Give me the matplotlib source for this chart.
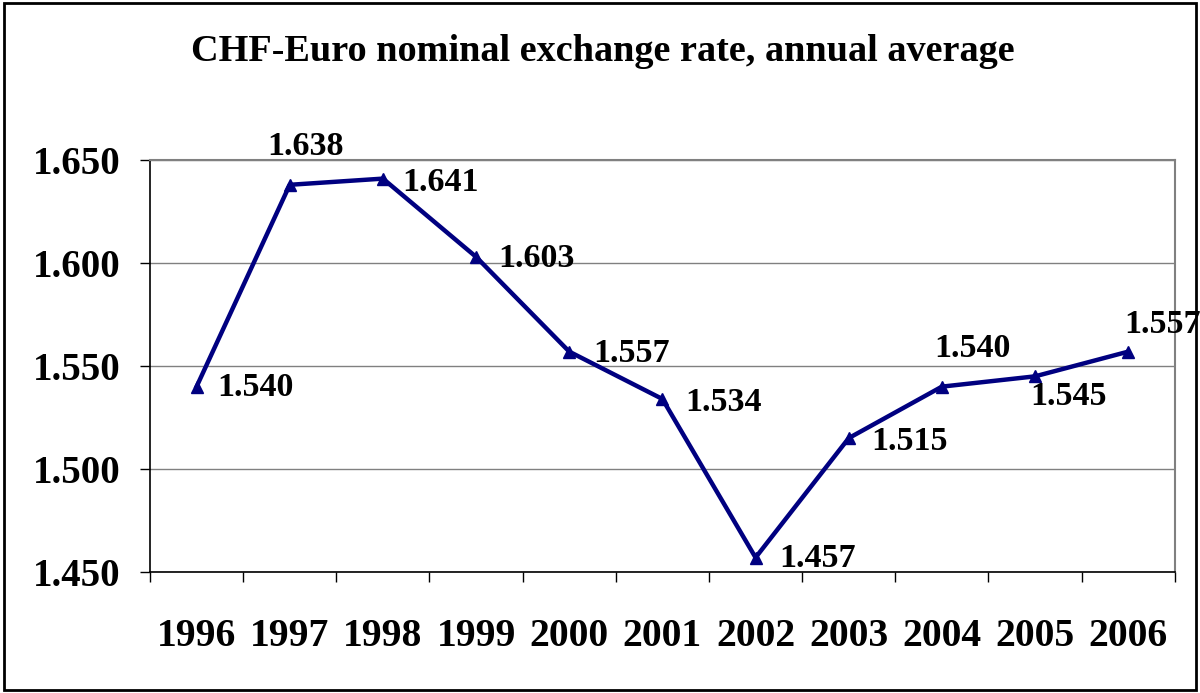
import matplotlib.pyplot as plt
from matplotlib.patches import Rectangle

years = ["1996", "1997", "1998", "1999", "2000", "2001", "2002", "2003", "2004", "2005", "2006"]
rates = [1.540, 1.638, 1.641, 1.603, 1.557, 1.534, 1.457, 1.515, 1.540, 1.545, 1.557]
y_ticks = [1.45, 1.50, 1.55, 1.60, 1.65]

# label offsets in pixels (dx, dy)
offsets = [(59, -1), (16, 38), (58, -4), (60, -2), (62, -2), (61, -4),
           (62, -1), (61, -3), (31, 38), (33, -20), (34, 27)]

plt.rcParams['font.family'] = ['Liberation Serif', 'DejaVu Serif']
plt.rcParams['font.weight'] = 'bold'

fig = plt.figure(figsize=(12, 6.93), dpi=100)
ax = fig.add_axes([0.125, 0.1746, 0.854, 0.5944])

x = list(range(len(years)))
ax.plot(x, rates, color='#000080', lw=3.2, marker='^', ms=8, zorder=3)

for xi, v, off in zip(x, rates, offsets):
    ax.annotate(f"{v:.3f}", (xi, v), xytext=off, textcoords='offset pixels',
                ha='center', va='center', fontsize=24.5, fontweight='bold')

ax.set_xlim(-0.5, len(years) - 0.5)
ax.set_ylim(1.45, 1.65)
ax.set_yticks(y_ticks)
ax.set_yticklabels([f"{t:.3f}" for t in y_ticks], fontsize=28, fontweight='bold')
ax.tick_params(axis='y', direction='out', length=7, width=1, pad=14)

ax.set_xticks([i - 0.5 for i in range(len(years) + 1)])
ax.set_xticklabels([])
ax.set_xticks(x, minor=True)
ax.set_xticklabels(years, minor=True, fontsize=28.5, fontweight='bold')
ax.tick_params(axis='x', which='major', direction='out', length=7, width=1)
ax.tick_params(axis='x', which='minor', length=0, pad=33)

ax.yaxis.grid(True, color='#808080', lw=1)
ax.set_axisbelow(True)
for s in ['top', 'right']:
    ax.spines[s].set_color('#808080')
    ax.spines[s].set_linewidth(1.5)
for s in ['left', 'bottom']:
    ax.spines[s].set_color('black')
    ax.spines[s].set_linewidth(1.2)

fig.text(0.502, 0.926, "CHF-Euro nominal exchange rate, annual average",
         ha='center', va='center', fontsize=27.5, fontweight='bold')

fig.patches.append(Rectangle((0.003, 0.004), 0.994, 0.992, transform=fig.transFigure,
                             fill=False, edgecolor='black', lw=2))

fig.savefig('out.png', dpi=100)
